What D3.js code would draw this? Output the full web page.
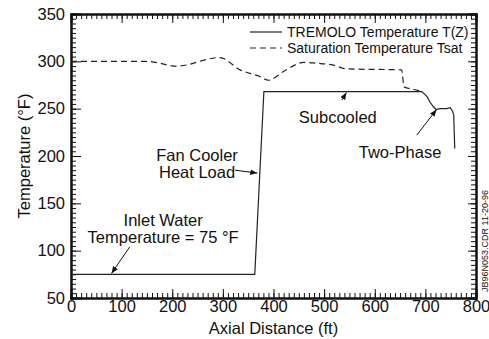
<!DOCTYPE html>
<meta charset="utf-8">
<style>
body { margin: 0; background: #fff; }
text { font-family: "Liberation Sans", Arial, sans-serif; fill: #111; }
.curve { fill: none; stroke: #222; stroke-width: 1.2px; }
.frame line, .frame path { stroke: #111; }
</style>
<svg width="489" height="339"></svg>
<script src="https://d3js.org/d3.v7.min.js"></script>
<script>

// TREMOLO temperature T(Z)
var distT = [0, 363, 381, 693, 703, 709, 716, 721, 729, 742, 749, 754, 756, 758];
var tempT = [75, 75, 268, 268, 263, 257, 252, 249, 250, 250, 251, 247, 243, 208];

// saturation temperature Tsat
var distSat = [0, 150, 209, 294, 334, 373, 390, 419, 446, 459, 485, 518, 545, 653, 658, 680, 693];
var tempSat = [300, 300, 295, 304, 291, 284, 280, 289, 297, 299, 298, 296, 292, 291, 273, 270, 268];

var xTicks = [0, 100, 200, 300, 400, 500, 600, 700, 800];
var yTicks = [50, 100, 150, 200, 250, 300, 350];

var svg = d3.select("svg"),
    margin = {top: 14, right: 13, bottom: 41, left: 71},
    width = +svg.attr("width") - margin.left - margin.right,
    height = +svg.attr("height") - margin.top - margin.bottom;

var g = svg.append("g").attr("transform", "translate(" + margin.left + "," + margin.top + ")");

var x = d3.scaleLinear().domain([0, 800]).range([0, width]);
var y = d3.scaleLinear().domain([50, 350]).range([height, 0]);

// minor + major ticks, drawn inward on all four sides
var frame = g.append("g").attr("class", "frame");
var xMinor = d3.range(0, 801, 10), yMinor = d3.range(50, 351, 5);

frame.append("g").attr("transform", "translate(0," + height + ")")
    .call(d3.axisBottom(x).tickValues(xMinor).tickSize(-5).tickFormat(""));
frame.append("g")
    .call(d3.axisTop(x).tickValues(xMinor).tickSize(-5).tickFormat(""));
frame.append("g")
    .call(d3.axisLeft(y).tickValues(yMinor).tickSize(-5).tickFormat(""));
frame.append("g").attr("transform", "translate(" + width + ",0)")
    .call(d3.axisRight(y).tickValues(yMinor).tickSize(-5).tickFormat(""));

var xAxis = frame.append("g").attr("transform", "translate(0," + height + ")")
    .call(d3.axisBottom(x).tickValues(xTicks).tickSize(-9).tickPadding(2));
frame.append("g").call(d3.axisTop(x).tickValues(xTicks).tickSize(-9).tickFormat(""));
var yAxis = frame.append("g")
    .call(d3.axisLeft(y).tickValues(yTicks).tickSize(-10).tickPadding(6));
frame.append("g").attr("transform", "translate(" + width + ",0)")
    .call(d3.axisRight(y).tickValues(yTicks).tickSize(-8).tickFormat(""));

frame.selectAll(".domain").attr("stroke-width", 2);
frame.selectAll(".tick line").attr("stroke-width", 1);
xAxis.selectAll("text").style("font-size", "16.5px");
yAxis.selectAll("text").style("font-size", "16.5px");

// curves
var line = d3.line()
    .x(function(d) { return x(d[0]); })
    .y(function(d) { return y(d[1]); });

g.append("path")
    .attr("class", "curve")
    .attr("stroke-dasharray", "6,4")
    .attr("d", line.curve(d3.curveMonotoneX)(d3.zip(distSat, tempSat)));

g.append("path")
    .attr("class", "curve")
    .attr("d", line.curve(d3.curveLinear)(d3.zip(distT, tempT)));

// axis titles
svg.append("text")
    .attr("x", margin.left + width / 2).attr("y", 334)
    .attr("text-anchor", "middle").style("font-size", "16.5px")
    .text("Axial Distance (ft)");

svg.append("text")
    .attr("transform", "translate(30," + (margin.top + height / 2) + ") rotate(-90)")
    .attr("text-anchor", "middle").style("font-size", "16.5px")
    .text("Temperature (°F)");

// legend
var legend = svg.append("g");
[["TREMOLO Temperature T(Z)", null, 32], ["Saturation Temperature Tsat", "6,4", 48]].forEach(function(d) {
  legend.append("line")
      .attr("x1", 250).attr("x2", 282).attr("y1", d[2]).attr("y2", d[2])
      .attr("stroke", "#222").attr("stroke-width", 1.2)
      .attr("stroke-dasharray", d[1]);
  legend.append("text")
      .attr("x", 287).attr("y", d[2] + 5)
      .style("font-size", "14px")
      .text(d[0]);
});

// annotations
svg.append("defs").append("marker")
    .attr("id", "head").attr("viewBox", "0 0 10 10")
    .attr("refX", 10).attr("refY", 5)
    .attr("markerWidth", 7).attr("markerHeight", 7)
    .attr("orient", "auto")
  .append("path").attr("d", "M0,1L10,5L0,9z").attr("fill", "#111");

function note(lines, cx, cy) {
  var t = g.append("text").attr("text-anchor", "middle").style("font-size", "16.5px");
  lines.forEach(function(s, i) {
    t.append("tspan").attr("x", x(cx)).attr("y", y(cy) + i * 17).text(s);
  });
}
function arrow(x1, y1, x2, y2) {
  g.append("line")
      .attr("x1", x(x1)).attr("y1", y(y1)).attr("x2", x(x2)).attr("y2", y(y2))
      .attr("stroke", "#111").attr("stroke-width", 1)
      .attr("marker-end", "url(#head)");
}

note(["Fan Cooler", "Heat Load"], 249, 195);
arrow(324, 185, 368, 182);

note(["Inlet Water", "Temperature = 75 °F"], 182, 126);
arrow(116, 104, 80, 76);

note(["Subcooled"], 527, 235);
arrow(535, 259, 544, 267);

note(["Two-Phase"], 650, 198);
arrow(683, 222, 722, 249);

svg.append("text")
    .attr("transform", "translate(488,241) rotate(-90)")
    .attr("text-anchor", "middle").style("font-size", "9px")
    .text("JB96N053.CDR 11-20-96");

</script>
